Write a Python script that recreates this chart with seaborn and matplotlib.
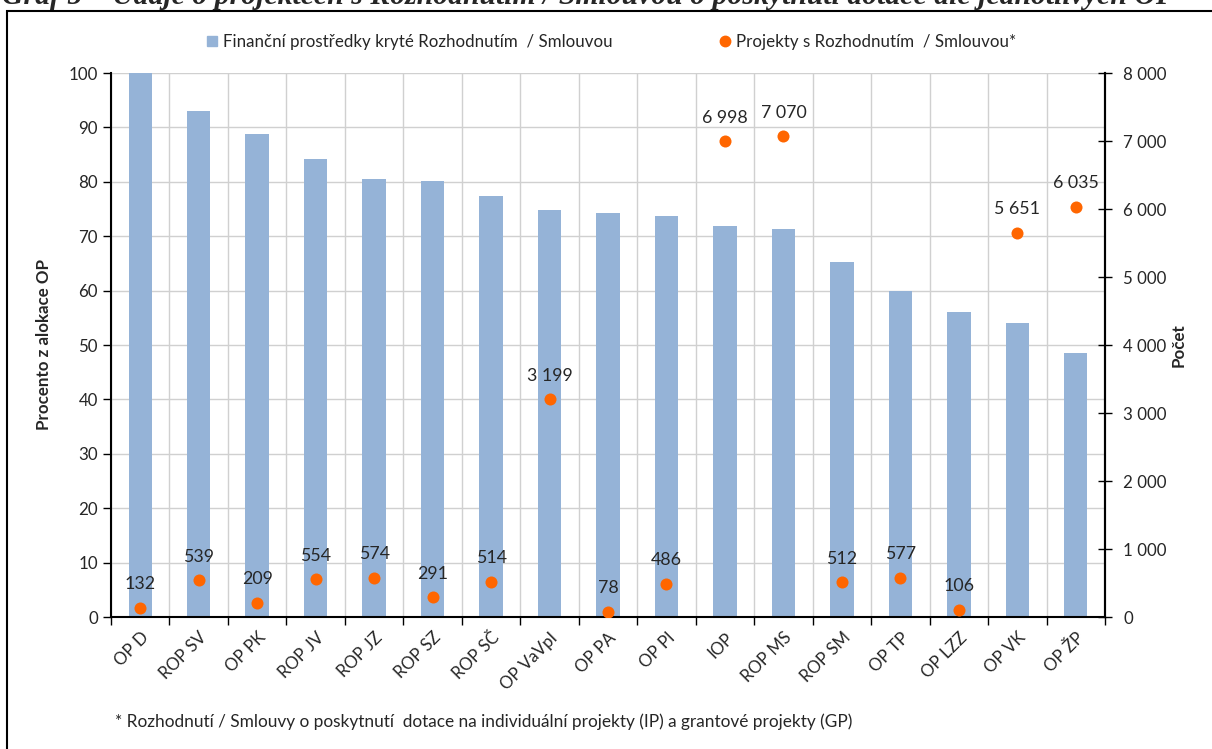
import numpy as np
import pandas as pd
import seaborn as sns
import matplotlib.pyplot as plt
from matplotlib.patches import Rectangle
from matplotlib.lines import Line2D
from matplotlib.ticker import FuncFormatter, MultipleLocator

categories = ['OP D', 'ROP SV', 'OP PK', 'ROP JV', 'ROP JZ', 'ROP SZ', 'ROP SČ', 'OP VaVpI',
              'OP PA', 'OP PI', 'IOP', 'ROP MS', 'ROP SM', 'OP TP', 'OP LZZ', 'OP VK', 'OP ŽP']
pct_alloc = [100.0, 93.0, 88.7, 84.2, 80.6, 80.2, 77.4, 74.9,
             74.2, 73.8, 71.9, 71.3, 65.3, 59.9, 56.1, 54.0, 48.5]
projects = [132, 539, 209, 554, 574, 291, 514, 3199,
            78, 486, 6998, 7070, 512, 577, 106, 5651, 6035]

bar_color = '#95B3D7'
dot_color = '#FF6600'

sns.set_theme(style='white')
plt.rcParams['font.family'] = ['Lato', 'DejaVu Sans']
fs = 12.2


def thousands(v, pos=None):
    return f'{v:,.0f}'.replace(',', ' ')


df = pd.DataFrame({'op': categories, 'pct': pct_alloc, 'count': projects})
df['pos'] = np.arange(len(df))

fig = plt.figure(figsize=(12.12, 7.49), dpi=100)

# frame round the chart + cut-off caption above it
fig.patches.append(Rectangle((7 / 1212, -0.05), 1.2, 1.05 - 11 / 749, transform=fig.transFigure,
                             fill=False, edgecolor='black', linewidth=1.5))
fig.text(2 / 1212, 1 - 4 / 749, 'Graf 5 – Údaje o projektech s Rozhodnutím / Smlouvou o poskytnutí dotace dle jednotlivých OP',
         family='Liberation Serif', fontweight='bold', fontstyle='italic', fontsize=21.4,
         ha='left', va='baseline')

ax = fig.add_axes([111 / 1212, 1 - 617 / 749, (1105 - 111) / 1212, (617 - 73) / 749])
sns.barplot(data=df, x='op', y='pct', color=bar_color, saturation=1, width=0.4,
            linewidth=0, ax=ax)
n = len(df)
ax.set_xlim(-0.5, n - 0.5)
ax.set_ylim(0, 100)
ax.yaxis.set_major_locator(MultipleLocator(10))
ax.set_xticks(np.arange(-0.5, n, 1))
ax.set_xticklabels([])
ax.set_xticks(np.arange(n), minor=True)
ax.set_xticklabels(categories, minor=True, rotation=45, ha='right', va='top',
                   rotation_mode='anchor', fontsize=fs)
ax.tick_params(axis='x', which='minor', length=0, pad=9)
ax.tick_params(axis='x', which='major', length=6, width=1, color='black', direction='out', bottom=True)
ax.tick_params(axis='y', length=6, width=1, color='black', direction='out', left=True, labelsize=fs)
ax.set_axisbelow(True)
ax.grid(True, which='major', color='#D0D0D0', linewidth=1)
ax.set_xlabel('')
ax.set_ylabel('Procento z alokace OP', fontweight='bold', fontsize=fs, labelpad=12)
for side in ['left', 'bottom', 'right']:
    ax.spines[side].set_color('black')
    ax.spines[side].set_linewidth(1.5)
ax.spines['top'].set_visible(False)

ax2 = ax.twinx()
sns.scatterplot(data=df, x='pos', y='count', color=dot_color, s=75, linewidth=0, ax=ax2, zorder=3)
ax2.set_ylim(0, 8000)
ax2.yaxis.set_major_locator(MultipleLocator(1000))
ax2.yaxis.set_major_formatter(FuncFormatter(thousands))
ax2.tick_params(axis='y', length=10, width=1, color='black', direction='inout', right=True,
                labelsize=fs, pad=8)
ax2.set_ylabel('Počet', fontweight='bold', fontsize=fs, labelpad=3)
ax2.set_xlabel('')
ax2.grid(False)
ax2.spines['right'].set_color('black')
ax2.spines['right'].set_linewidth(1.5)
ax2.spines['top'].set_visible(False)
ax2.spines['left'].set_visible(False)
ax2.spines['bottom'].set_visible(False)

for x, y in zip(df['pos'], df['count']):
    ax2.annotate(thousands(y), (x, y), xytext=(0, 17), textcoords='offset points',
                 ha='center', va='center', fontsize=12.8)

handles = [Line2D([], [], marker='s', linestyle='', color=bar_color, markersize=7.5),
           Line2D([], [], marker='o', linestyle='', color=dot_color, markersize=7.5)]
fig.legend(handles, ['Finanční prostředky kryté Rozhodnutím  / Smlouvou', 'Projekty s Rozhodnutím  / Smlouvou*'],
           loc='center', bbox_to_anchor=(611 / 1212, 1 - 42 / 749), ncol=2, frameon=False,
           fontsize=fs, handlelength=0.7, handletextpad=0.3, columnspacing=6.3)

fig.text(115 / 1212, 1 - 722 / 749,
         '* Rozhodnutí / Smlouvy o poskytnutí  dotace na individuální projekty (IP) a grantové projekty (GP)',
         fontsize=12.4, ha='left', va='center')

fig.savefig('out.png', dpi=100)
